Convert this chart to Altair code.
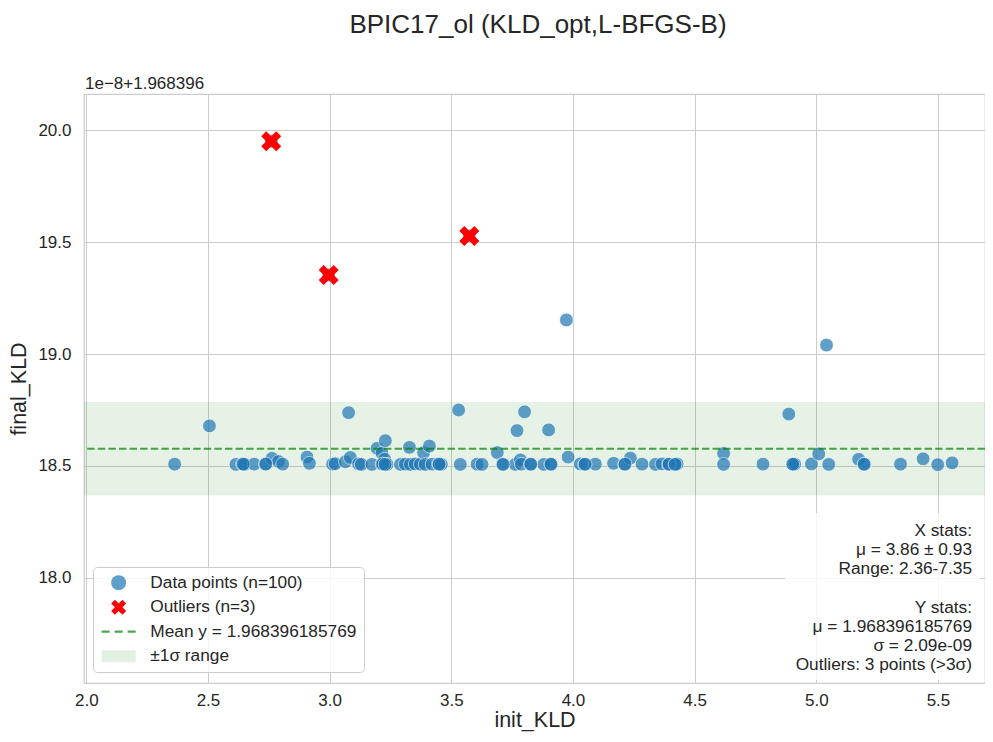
import altair as alt
import pandas as pd

TITLE = "BPIC17_ol (KLD_opt,L-BFGS-B)"
X_LABEL = "init_KLD"
Y_LABEL = "final_KLD"
Y_OFFSET_TEXT = "1e\u22128+1.968396"

# final_KLD values are given in units of 1e-8 above 1.968396
init_kld = [
    2.363, 2.506, 2.615, 2.642, 2.651, 2.690, 2.736, 2.763, 2.790, 2.807,
    2.907, 2.917, 3.012, 3.023, 3.065, 3.078, 3.085, 3.119, 3.130, 3.174,
    3.195, 3.215, 3.215, 3.226, 3.229, 3.236, 3.291, 3.311, 3.328, 3.332,
    3.352, 3.373, 3.386, 3.393, 3.410, 3.421, 3.448, 3.459, 3.530, 3.537,
    3.606, 3.626, 3.689, 3.711, 3.763, 3.770, 3.784, 3.788, 3.801, 3.825,
    3.880, 3.900, 3.911, 3.973, 3.980, 4.030, 4.048, 4.092, 4.167, 4.212,
    4.236, 4.284, 4.339, 4.366, 4.393, 4.418, 4.428, 4.619, 4.619, 4.781,
    4.887, 4.905, 4.911, 4.980, 5.010, 5.042, 5.051, 5.174, 5.198, 5.346,
    5.439, 5.499, 5.558,
    2.760, 2.996, 3.574,
    2.645, 2.738, 3.218, 3.228, 3.450, 3.713, 3.827, 3.909, 4.214, 4.395,
    4.420, 4.903, 5.196, 4.050,
]
final_kld_offset = [
    18.508, 18.679, 18.507, 18.509, 18.507, 18.508, 18.507, 18.534, 18.520, 18.508,
    18.540, 18.512, 18.508, 18.510, 18.519, 18.738, 18.538, 18.509, 18.507, 18.507,
    18.579, 18.557, 18.508, 18.530, 18.613, 18.507, 18.507, 18.508, 18.583, 18.507,
    18.509, 18.508, 18.560, 18.507, 18.589, 18.508, 18.509, 18.507, 18.750, 18.507,
    18.508, 18.507, 18.560, 18.508, 18.507, 18.658, 18.527, 18.508, 18.742, 18.507,
    18.507, 18.661, 18.507, 19.152, 18.540, 18.509, 18.507, 18.508, 18.512, 18.507,
    18.535, 18.508, 18.507, 18.509, 18.507, 18.508, 18.509, 18.556, 18.507, 18.508,
    18.732, 18.507, 18.508, 18.509, 18.554, 19.040, 18.507, 18.530, 18.507, 18.508,
    18.532, 18.506, 18.514,
    19.950, 19.353, 19.527,
    18.508, 18.509, 18.509, 18.507, 18.508, 18.507, 18.508, 18.508, 18.508, 18.508,
    18.507, 18.508, 18.508, 18.508,
]

outlier_x = [2.760, 2.996, 3.574]
outlier_y = [19.950, 19.353, 19.527]

mean_y_offset = 18.5769
sigma_offset = 0.209

x_ticks = [2.0, 2.5, 3.0, 3.5, 4.0, 4.5, 5.0, 5.5]
y_ticks = [18.0, 18.5, 19.0, 19.5, 20.0]

legend_labels = [
    "Data points (n=100)",
    "Outliers (n=3)",
    "Mean y = 1.968396185769",
    "\u00b11\u03c3 range",
]
x_stats_lines = [
    "X stats:",
    "\u03bc = 3.86 \u00b1 0.93",
    "Range: 2.36-7.35",
]
y_stats_lines = [
    "Y stats:",
    "\u03bc = 1.968396185769",
    "\u03c3 = 2.09e-09",
    "Outliers: 3 points (>3\u03c3)",
]

FONT = "Liberation Sans"
TXT = "#262626"
BLUE = "#1f77b4"
GREEN = "#008000"

X_PATH = "M-1,-0.5 L-0.5,-1 L0,-0.5 L0.5,-1 L1,-0.5 L0.5,0 L1,0.5 L0.5,1 L0,0.5 L-0.5,1 L-1,0.5 L-0.5,0 Z"
DASH_PATH = ("M-2.27,-0.14 L-1.2,-0.14 L-1.2,0.14 L-2.27,0.14 Z "
             "M-0.53,-0.14 L0.53,-0.14 L0.53,0.14 L-0.53,0.14 Z "
             "M1.2,-0.14 L2.27,-0.14 L2.27,0.14 L1.2,0.14 Z")
RECT_PATH = "M-2.27,-0.8 L2.27,-0.8 L2.27,0.8 L-2.27,0.8 Z"

W, H = 901, 589
PX_PER_X = 243.33

xs = alt.Scale(domain=[1.9905, 1.9905 + W / PX_PER_X], nice=False, zero=False)
ys = alt.Scale(domain=[17.531, 20.161], nice=False, zero=False)
xaxis = alt.Axis(title=X_LABEL, values=x_ticks, format=".1f")
yaxis = alt.Axis(title=Y_LABEL, values=y_ticks, format=".1f")

df = pd.DataFrame({"x": init_kld, "y": final_kld_offset})
out = pd.DataFrame({"x": outlier_x, "y": outlier_y})
stat = pd.DataFrame({
    "y": [mean_y_offset],
    "lo": [mean_y_offset - sigma_offset],
    "hi": [mean_y_offset + sigma_offset],
})
leg = pd.DataFrame({"series": legend_labels})

band = alt.Chart(stat).mark_rect(color=GREEN, opacity=0.1).encode(
    y=alt.Y("lo:Q", scale=ys, axis=yaxis),
    y2="hi:Q",
    x=alt.value(0),
    x2=alt.value(W),
)

points = alt.Chart(df).mark_point(
    filled=True, color=BLUE, opacity=0.7, size=190, stroke="white", strokeWidth=0.8
).encode(
    x=alt.X("x:Q", scale=xs, axis=xaxis),
    y=alt.Y("y:Q", scale=ys, axis=yaxis),
)

outl = alt.Chart(out).mark_point(
    filled=True, color="red", opacity=1, size=400, shape=X_PATH
).encode(
    x=alt.X("x:Q", scale=xs, axis=xaxis),
    y=alt.Y("y:Q", scale=ys, axis=yaxis),
)

rule = alt.Chart(stat).mark_rule(
    color=GREEN, opacity=0.7, strokeWidth=2, strokeDash=[7.4, 3.2]
).encode(y=alt.Y("y:Q", scale=ys, axis=yaxis))

legend_cfg = dict(
    title=None, orient="none", legendX=9, legendY=473,
    padding=7, symbolSize=225, symbolOffset=10, labelOffset=23,
    rowPadding=6.5, labelFontSize=17.3, labelFont=FONT, labelColor=TXT,
    strokeColor="#cccccc", fillColor="rgba(255,255,255,0.8)",
    cornerRadius=4, symbolOpacity=1, symbolStrokeWidth=0, labelLimit=400,
)

legend_layer = alt.Chart(leg).mark_point(filled=True, opacity=0, size=225).encode(
    x=alt.value(0),
    y=alt.value(0),
    color=alt.Color(
        "series:N",
        scale=alt.Scale(domain=legend_labels,
                        range=["#5fa0cb", "#ff0000", "#4da64d", "#e2f0e2"]),
        legend=alt.Legend(**legend_cfg),
    ),
    shape=alt.Shape(
        "series:N",
        scale=alt.Scale(domain=legend_labels,
                        range=["circle", X_PATH, DASH_PATH, RECT_PATH]),
        legend=alt.Legend(**legend_cfg),
    ),
)

box = alt.Chart(stat).mark_rect(
    fill="white", opacity=0.8, cornerRadius=4
).encode(
    x=alt.value(701), x2=alt.value(896), y=alt.value(419), y2=alt.value(586)
)

LINE_H = 19.2
x_stats_text = alt.Chart(stat).mark_text(
    text=x_stats_lines, align="right", baseline="top", lineHeight=LINE_H,
    fontSize=17.3, font=FONT, color=TXT,
).encode(x=alt.value(888), y=alt.value(428))

y_stats_text = alt.Chart(stat).mark_text(
    text=y_stats_lines, align="right", baseline="top", lineHeight=LINE_H,
    fontSize=17.3, font=FONT, color=TXT,
).encode(x=alt.value(888), y=alt.value(428 + 4 * LINE_H))

offset_text = alt.Chart(stat).mark_text(
    text=Y_OFFSET_TEXT, align="left", baseline="alphabetic",
    fontSize=17, font=FONT, color=TXT,
).encode(x=alt.value(1), y=alt.value(-5))

chart = alt.layer(
    band, points, outl, rule, legend_layer, box, x_stats_text, y_stats_text,
    offset_text
).properties(
    width=W,
    height=H,
    title=alt.TitleParams(TITLE, fontSize=26, font=FONT, color=TXT,
                          fontWeight="normal", anchor="middle", offset=37, dx=3.5),
    autosize=alt.AutoSizeParams(type="none"),
    padding={"left": 76, "top": 86, "right": 0, "bottom": 50},
).configure_view(
    stroke="#cccccc", strokeWidth=1.25
).configure_axis(
    domain=False, ticks=False, grid=True, gridColor="#cccccc", gridWidth=1,
    labelFont=FONT, labelFontSize=17, labelColor=TXT,
    titleFont=FONT, titleFontSize=21.5, titleFontWeight="normal", titleColor=TXT,
).configure_axisX(
    labelPadding=9, titlePadding=1
).configure_axisY(
    labelPadding=13, titlePadding=7
)

chart.save("out.html", embed_options={"renderer": "svg", "actions": False})
